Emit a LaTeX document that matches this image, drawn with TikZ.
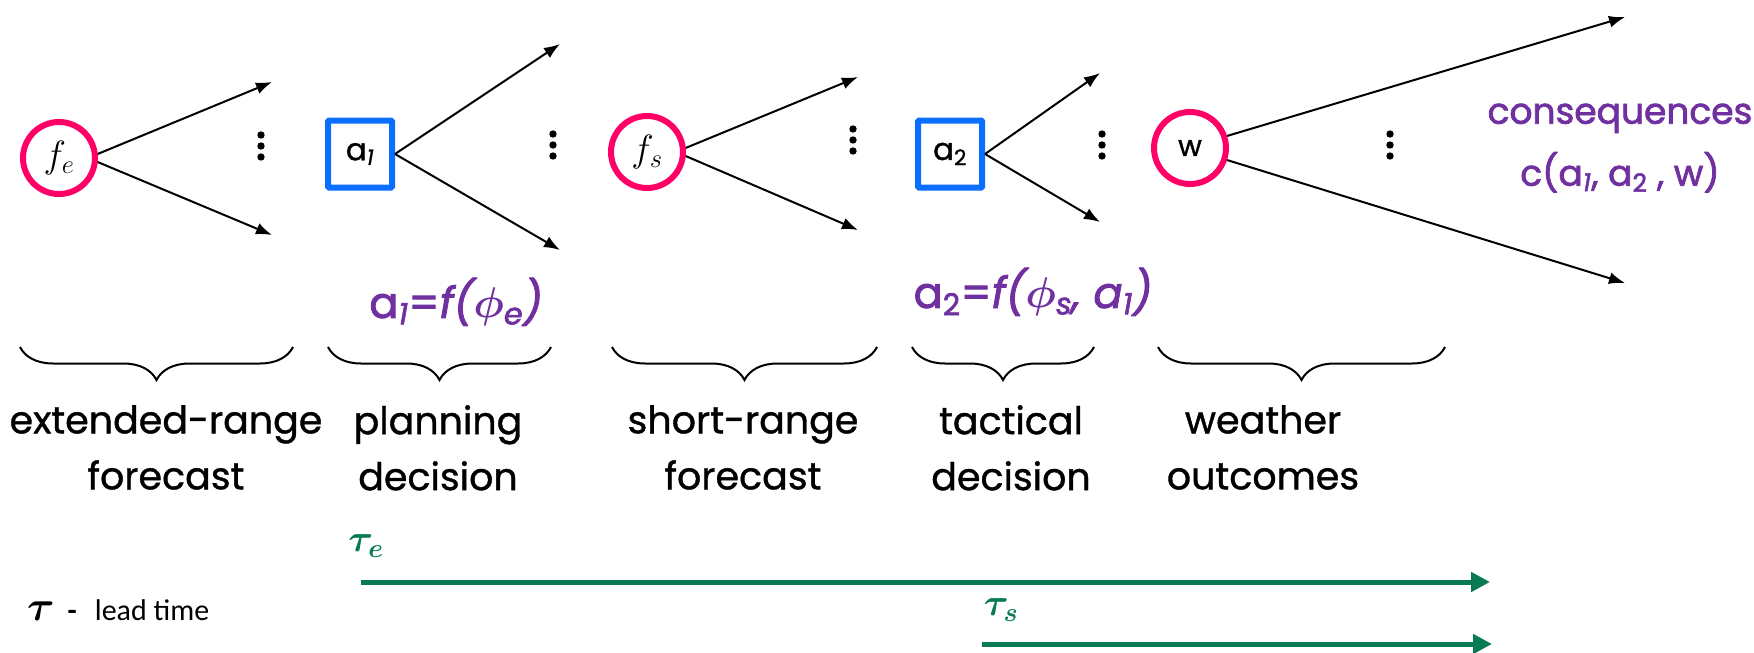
\RequirePackage{fix-cm}
\documentclass[tikz,border=0pt]{standalone}
\usepackage{amsmath}
\usepackage{bm}
\usepackage{fontspec}
\setmainfont{Poppins}[FakeBold=1]
\newfontfamily\purpfont{Poppins}[FakeBold=2]
\newfontfamily\carl{Carlito}
\usetikzlibrary{arrows.meta,decorations.pathreplacing}
\definecolor{pinkc}{RGB}{255,0,102}
\definecolor{bluec}{RGB}{10,110,255}
\definecolor{purp}{RGB}{112,48,160}
\definecolor{greenc}{RGB}{10,122,82}
\begin{document}
\begin{tikzpicture}[x=1pt,y=-1pt,
  chance/.style={circle,draw=pinkc,line width=6pt,minimum size=72pt,inner sep=0pt},
  decision/.style={rectangle,draw=bluec,line width=6pt,minimum width=64pt,minimum height=67pt,inner sep=0pt,rounded corners=1pt},
  branch/.style={line width=2pt,-{Latex[length=16pt,width=12pt]}},
  brc/.style={decorate,decoration={brace,mirror,amplitude=33pt},line width=2pt},
  lbl/.style={anchor=north,inner sep=0pt,align=center,font=\fontsize{38}{56}\selectfont},
  plab/.style={text=purp,inner sep=0pt,font=\purpfont\fontsize{43}{50}\selectfont},
  timeline/.style={draw=greenc,line width=5pt,-{Triangle[length=19pt,width=19pt]}},
  glab/.style={text=greenc,inner sep=0pt,font=\fontsize{38}{40}\selectfont}
]
\useasboundingbox (0,0) rectangle (1754,653);
% decision tree nodes
\node[chance] (fe) at (59,158) {\fontsize{38}{40}\selectfont$f_e$};
\node[decision] (a1) at (360,154) {\fontsize{31}{34}\selectfont a\textsubscript{\itshape 1}};
\node[chance] (fs) at (647,152) {\fontsize{38}{40}\selectfont$f_s$};
\node[decision] (a2) at (950,154) {\fontsize{31}{34}\selectfont a\textsubscript{2}};
\node[chance] (w) at (1190,148) {\fontsize{29}{32}\selectfont w};
% branch ends
\coordinate (fe1) at (272,82);   \coordinate (fe2) at (272,235);
\coordinate (a11) at (560,44);   \coordinate (a12) at (560,250);
\coordinate (fs1) at (858,77);   \coordinate (fs2) at (858,230);
\coordinate (a21) at (1100,73);  \coordinate (a22) at (1100,222);
\coordinate (w1) at (1625,17);   \coordinate (w2) at (1625,283);
\draw[branch] (fe.6) -- (fe1);
\draw[branch] (fe.-6) -- (fe2);
\draw[branch] (a1.east) -- (a11);
\draw[branch] (a1.east) -- (a12);
\draw[branch] (fs.6) -- (fs1);
\draw[branch] (fs.-6) -- (fs2);
\draw[branch] (a2.east) -- (a21);
\draw[branch] (a2.east) -- (a22);
\draw[branch] (w.18) -- (w1);
\draw[branch] (w.-18) -- (w2);
% vertical dots
\foreach \x/\y in {261/146,553/145,853/140,1102/145,1390/145}{
  \fill (\x,\y-11) circle (3.7);
  \fill (\x,\y) circle (3.7);
  \fill (\x,\y+11) circle (3.7);
}
% consequences
\node[plab,align=center,font=\purpfont\fontsize{36}{62}\selectfont] (cons) at (1620,148)
  {consequences\\c(a\textsubscript{\itshape 1}, a\textsubscript{2} , w)};
% decision rules
\node[plab] (r1) at (456,302) {a\textsubscript{\itshape 1}={\itshape f($\bm{\phi}$\textsubscript{e})}};
\node[plab] (r2) at (1033,292) {a\textsubscript{2}={\itshape f($\bm{\phi}$\textsubscript{s}, a\textsubscript{1})}};
% braces
\draw[brc] (20,347) -- (293,347);
\draw[brc] (328,347) -- (551,347);
\draw[brc] (612,347) -- (877,347);
\draw[brc] (912,347) -- (1094,347);
\draw[brc] (1158,347) -- (1445,347);
% stage labels
\node[lbl] (l1) at (166,405) {extended-range\\forecast};
\node[lbl] (l2) at (438,405) {planning\\decision};
\node[lbl] (l3) at (743,405) {short-range\\forecast};
\node[lbl] (l4) at (1011,405) {tactical\\decision};
\node[lbl] (l5) at (1263,405) {weather\\outcomes};
% lead times
\node[glab] (te) at (366,546) {$\bm{\tau}_{\bm{e}}$};
\node[glab] (ts) at (1001,610) {$\bm{\tau}_{\bm{s}}$};
\coordinate (te0) at (361,582); \coordinate (te1) at (1490,582);
\coordinate (ts0) at (982,644); \coordinate (ts1) at (1492,644);
\draw[timeline] (te0) -- (te1);
\draw[timeline] (ts0) -- (ts1);
\node[anchor=west,inner sep=0pt] (legend) at (27,610)
  {\fontsize{42}{44}\selectfont$\bm{\tau}$\hspace{13pt}{\carl\bfseries\fontsize{30}{32}\selectfont -}\hspace{18pt}{\carl\fontsize{30}{32}\selectfont lead time}};
\end{tikzpicture}
\end{document}
